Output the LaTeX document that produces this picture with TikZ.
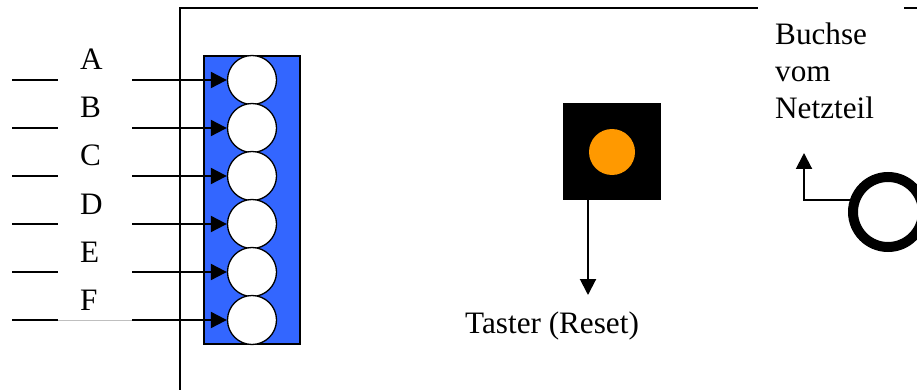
\documentclass[tikz,border=0pt]{standalone}
\usepackage{fontspec}
\setmainfont{Liberation Serif}
\usetikzlibrary{arrows.meta}
\definecolor{plugblue}{RGB}{51,102,255}
\definecolor{btnorange}{RGB}{255,153,0}
\begin{document}
\begin{tikzpicture}[x=1pt,y=-1pt,
  wire/.style={line width=2pt},
  arr/.style={line width=2pt,-{Triangle[length=16pt,width=16pt]}},
  pin/.style={circle,draw,fill=white,line width=1.3pt,minimum size=49pt,inner sep=0pt},
  lbl/.style={font=\fontsize{31.2}{37}\selectfont,inner sep=0pt}]
\useasboundingbox (0,0) rectangle (917,390);
% board outline
\draw[wire] (180,390) -- (180,8) -- (758,8);
\draw[wire] (904,8) -- (917,8);
% connector block
\draw[fill=plugblue,line width=1.6pt] (204,56) rectangle (300,344);
\foreach \i/\L [count=\n from 0] in {1/A,2/B,3/C,4/D,5/E,6/F}{
  \node[pin] (c\i) at (252,80+48*\n) {};
  \coordinate (s\i) at (132,80+48*\n);
  \node[lbl,anchor=base west] (l\i) at (80,70+48*\n) {\L};
  \draw[wire] (12,80+48*\n) -- (58,80+48*\n);
  \draw[arr] (s\i) -- (c\i.west);
}
\draw[gray!50,line width=0.8pt] (58,320) -- (132,320);
% reset button
\node[fill=black,minimum width=98pt,minimum height=97pt,inner sep=0pt] (sq) at (612,151.5) {};
\node[circle,fill=btnorange,minimum size=46pt,inner sep=0pt] (led) at (612,152) {};
\coordinate (tstart) at (588,200);
\coordinate (ttip) at (588,295);
\draw[arr] (tstart) -- (ttip);
\node[lbl,anchor=base west] (taster) at (465,333) {Taster (Reset)};
% power jack
\node[circle,draw,line width=10pt,minimum size=70pt,inner sep=0pt] (jack) at (888,212) {};
\coordinate (jtip) at (804,153);
\draw[arr] (jack.163) -| (jtip);
\node[lbl,anchor=base west,align=left] (buchse) at (775,119) {Buchse\\vom\\Netzteil};
\end{tikzpicture}
\end{document}
